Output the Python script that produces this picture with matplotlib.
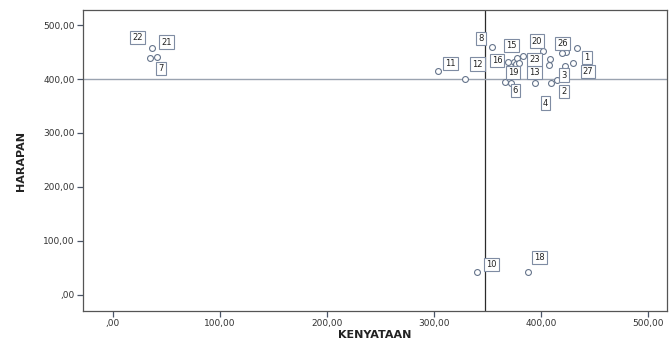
import numpy as np
import matplotlib
matplotlib.use("Agg")
import matplotlib.pyplot as plt
from matplotlib.ticker import FuncFormatter

# case numbers 1..27
cases = list(range(1, 28))
kenyataan = [433.9, 415.0, 422.4, 409.3, 375.0, 372.6, 34.6, 354.5, 377.3, 340.8,
             303.7, 329.0, 394.4, 383.5, 378.2, 369.4, 408.4, 387.6, 366.6, 402.1,
             40.8, 36.2, 379.4, 407.5, 423.4, 420.3, 430.2]
harapan = [456.9, 398.0, 424.1, 392.6, 432.0, 393.0, 438.3, 459.8, 427.2, 42.0,
           415.7, 400.0, 393.0, 442.6, 439.4, 432.0, 437.0, 42.0, 395.0, 451.9,
           440.7, 458.0, 429.0, 425.9, 450.6, 447.6, 430.2]
labelled = [1, 2, 3, 4, 6, 7, 8, 10, 11, 12, 13, 15, 16, 18, 19, 20, 21, 22, 23, 26, 27]

# where each case label box sits relative to its point (pixels, x right / y up)
label_offset = {1: (10, -9), 2: (7, -11), 3: (-1, -9), 4: (-5, -20), 6: (4, -8),
                7: (11, -10), 8: (-11, 8), 10: (14, 8), 11: (13, 7), 12: (13, 15),
                13: (0, 10), 15: (-6, 12), 16: (-11, 1), 18: (12, 15), 19: (8, 9),
                20: (-6, 10), 21: (10, 15), 22: (-14, 10), 23: (16, 4), 26: (0, 10),
                27: (15, -9)}


def spss_num(v, pos=None):
    s = f"{v:.2f}".replace('.', ',')
    if s.startswith('0,'):
        s = s[1:]
    return s


fig = plt.figure(figsize=(6.69, 3.43), dpi=100)
ax = fig.add_axes([0.124, 0.093, 0.873, 0.878])

ax.axvline(np.mean(kenyataan), color='#2b2b2b', lw=0.9, zorder=1)
ax.axhline(np.mean(harapan), color='#9aa3b0', lw=1.0, zorder=1)

ax.scatter(kenyataan, harapan, s=18, facecolors='white', edgecolors='#66758c',
           linewidths=0.8, zorder=3)

for c in labelled:
    i = cases.index(c)
    dx, dy = label_offset[c]
    ax.annotate(str(c), (kenyataan[i], harapan[i]), xytext=(dx, dy),
                textcoords='offset pixels', ha='center', va='center', fontsize=6,
                color='#222222', zorder=4,
                bbox=dict(boxstyle='square,pad=0.25', fc='white', ec='#7f8ca3', lw=0.8))

ax.set_xlim(-28, 518)
ax.set_ylim(-30, 528)
ax.set_xticks([0, 100, 200, 300, 400, 500])
ax.set_yticks([0, 100, 200, 300, 400, 500])
ax.xaxis.set_major_formatter(FuncFormatter(spss_num))
ax.yaxis.set_major_formatter(FuncFormatter(spss_num))
ax.tick_params(direction='out', length=4, width=0.9, color='#4a5568',
               labelsize=6.5, labelcolor='#333333', pad=2)
for sp in ax.spines.values():
    sp.set_color('#555555')
    sp.set_linewidth(0.9)

ax.set_xlabel('KENYATAAN', fontsize=8, fontweight='bold', color='#222222', labelpad=1)
ax.set_ylabel('HARAPAN', fontsize=8, fontweight='bold', color='#222222', labelpad=12,
              fontfamily='Liberation Sans Narrow')

fig.savefig('out.png', dpi=100)
